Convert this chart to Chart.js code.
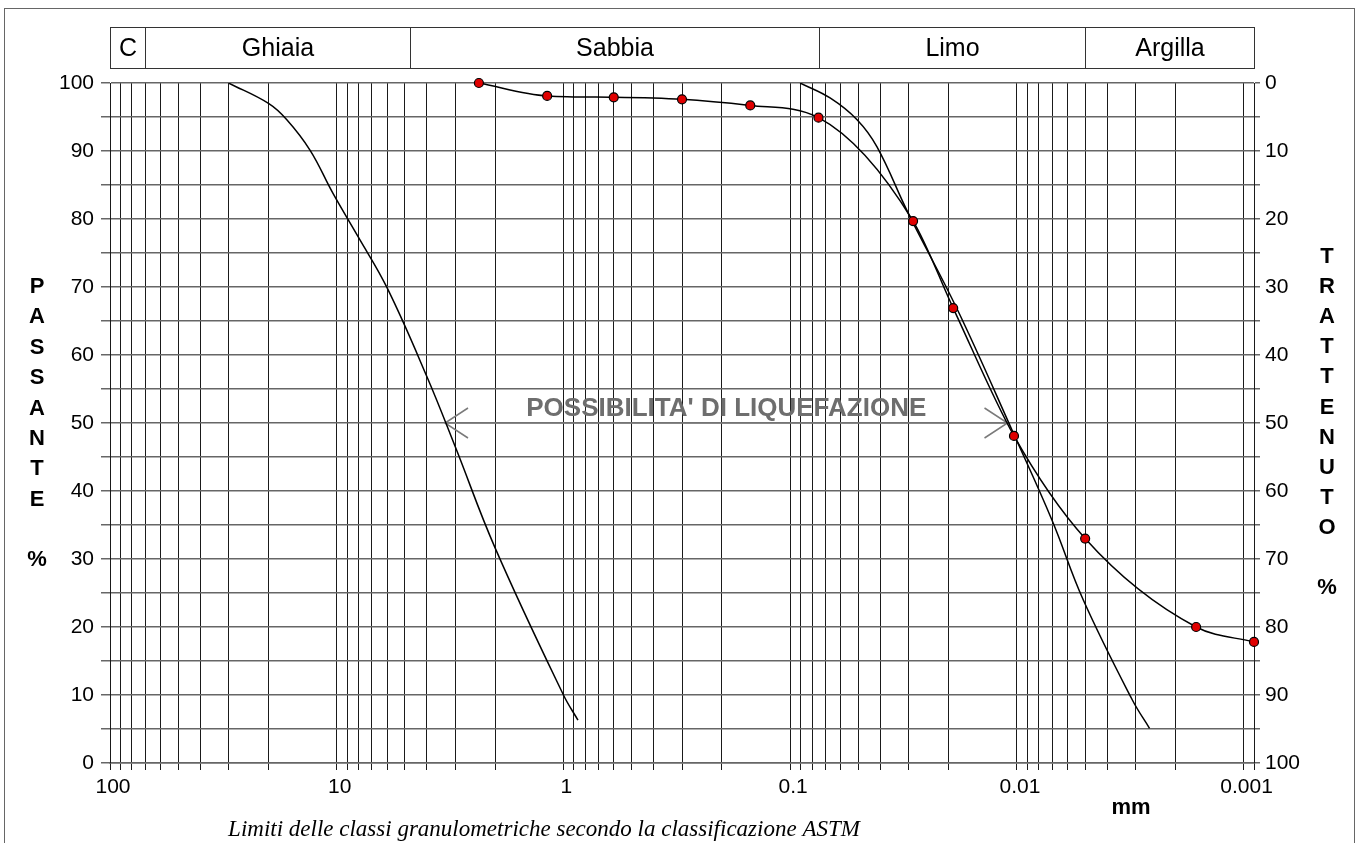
<!DOCTYPE html>
<html>
<head>
<meta charset="utf-8">
<script src="https://cdn.jsdelivr.net/npm/chart.js@4.4.1/dist/chart.umd.min.js"></script>
<style>
  html, body { margin: 0; padding: 0; background: #fff; }
  canvas { display: block; }
</style>
</head>
<body>
<canvas id="granChart" width="1359" height="843"></canvas>
<script>
// Curva granulometrica del campione (mm, % passante)
const sampleSize    = [2.36, 1.18, 0.6, 0.3, 0.15, 0.075, 0.0287, 0.0191, 0.0103, 0.005, 0.00162, 0.0009];
const samplePassing = [100, 98.1, 97.9, 97.6, 96.7, 94.9, 79.7, 66.9, 48.1, 33.0, 20.0, 17.8];

// Fuso della possibilita' di liquefazione
const leftEnvSize     = [30, 20, 16.6, 13.1, 10.4, 8.05, 6.0, 4.0, 3.0, 2.0, 1.0, 0.863];
const leftEnvPassing  = [100, 97, 94.6, 90.1, 83.8, 77.4, 69.9, 56.8, 46.5, 31.6, 10, 6.3];
const rightEnvSize    = [0.0904, 0.0667, 0.0507, 0.0414, 0.0302, 0.0182, 0.0103, 0.007, 0.0051, 0.0031, 0.0026];
const rightEnvPassing = [100, 97.8, 94.6, 90.6, 80.9, 66.5, 48.3, 35.7, 24, 9.3, 5.1];

// Classi ASTM
const classNames  = ['C', 'Ghiaia', 'Sabbia', 'Limo', 'Argilla'];
const classLimits = [100, 70, 4.75, 0.075, 0.005, 0.0009];

const arrowFrom = 3.33, arrowTo = 0.011, arrowLevel = 50;
const xMin = 0.0009, xMax = 100;

// log grid: 1..9 x 10^e
const xGrid = [];
for (let e = -4; e <= 2; e++) {
  for (let m = 1; m <= 9; m++) {
    const v = Number((m * Math.pow(10, e)).toPrecision(2));
    if (v >= xMin && v <= xMax) xGrid.push(v);
  }
}

function pts(xs, ys) { return xs.map((x, i) => ({ x, y: ys[i] })); }
function isDecade(v) { const l = Math.log10(v); return Math.abs(l - Math.round(l)) < 1e-9; }

const SANS = 'Arial, "Liberation Sans", Helvetica, sans-serif';
Chart.defaults.font.family = SANS;
Chart.defaults.font.size = 21;
Chart.defaults.color = '#000';

const decor = {
  id: 'decor',
  beforeDatasetsDraw(chart) {
    const { ctx, scales: { x, y } } = chart;
    const x1 = x.getPixelForValue(arrowFrom), x2 = x.getPixelForValue(arrowTo);
    const yy = y.getPixelForValue(arrowLevel);
    ctx.save();
    ctx.strokeStyle = '#7a7a7a';
    ctx.lineWidth = 1.5;
    ctx.beginPath();
    ctx.moveTo(x1, yy); ctx.lineTo(x2, yy);
    ctx.moveTo(x1 + 23, yy - 15); ctx.lineTo(x1, yy); ctx.lineTo(x1 + 23, yy + 15);
    ctx.moveTo(x2 - 23, yy - 15); ctx.lineTo(x2, yy); ctx.lineTo(x2 - 23, yy + 15);
    ctx.stroke();
    ctx.fillStyle = '#6e6e6e';
    ctx.font = 'bold 26px ' + SANS;
    ctx.textAlign = 'center';
    ctx.textBaseline = 'middle';
    ctx.fillText("POSSIBILITA' DI LIQUEFAZIONE", (x1 + x2) / 2, yy - 14);
    ctx.restore();
  },
  afterDraw(chart) {
    const { ctx, scales: { x } } = chart;
    ctx.save();
    // cornice esterna
    ctx.strokeStyle = '#666';
    ctx.lineWidth = 1;
    ctx.strokeRect(4.5, 8.5, 1350, 860);

    // intestazione classi
    ctx.strokeStyle = '#333';
    ctx.fillStyle = '#000';
    ctx.font = '25px ' + SANS;
    ctx.textAlign = 'center';
    ctx.textBaseline = 'middle';
    const top = 27.5, bot = 68.5;
    for (let i = 0; i < classNames.length; i++) {
      const a = Math.round(x.getPixelForValue(classLimits[i])) + 0.5;
      const b = Math.round(x.getPixelForValue(classLimits[i + 1])) + 0.5;
      ctx.strokeRect(a, top, b - a, bot - top);
      ctx.fillText(classNames[i], (a + b) / 2, (top + bot) / 2 + 1);
    }

    // titoli verticali
    ctx.font = 'bold 22px ' + SANS;
    'PASSANTE'.split('').forEach((c, i) => ctx.fillText(c, 37, 287 + i * 30.4));
    ctx.fillText('%', 37, 560);
    'TRATTENUTO'.split('').forEach((c, i) => ctx.fillText(c, 1327, 257 + i * 30.1));
    ctx.fillText('%', 1327, 588);

    ctx.fillText('mm', 1131, 808);

    ctx.font = 'italic 23px "Liberation Serif", "Times New Roman", serif';
    ctx.fillText('Limiti delle classi granulometriche secondo la classificazione ASTM', 544, 830);
    ctx.restore();
  }
};

new Chart(document.getElementById('granChart'), {
  type: 'scatter',
  data: {
    datasets: [
      {
        label: 'Campione',
        data: pts(sampleSize, samplePassing),
        showLine: true,
        borderColor: '#000',
        borderWidth: 1.5,
        pointRadius: 4.5,
        pointBackgroundColor: '#e00000',
        pointBorderColor: '#000',
        pointBorderWidth: 1.2,
        cubicInterpolationMode: 'monotone',
        clip: false
      },
      {
        label: 'Fuso sx',
        data: pts(leftEnvSize, leftEnvPassing),
        showLine: true,
        borderColor: '#000',
        borderWidth: 1.5,
        pointRadius: 0,
        tension: 0.4
      },
      {
        label: 'Fuso dx',
        data: pts(rightEnvSize, rightEnvPassing),
        showLine: true,
        borderColor: '#000',
        borderWidth: 1.5,
        pointRadius: 0,
        tension: 0.4
      }
    ]
  },
  options: {
    responsive: false,
    animation: false,
    layout: { padding: { top: 83, left: 0, right: 0, bottom: 0 } },
    plugins: { legend: { display: false }, tooltip: { enabled: false } },
    scales: {
      x: {
        type: 'logarithmic',
        position: 'bottom',
        reverse: true,
        min: xMin,
        max: xMax,
        afterBuildTicks: s => { s.ticks = xGrid.map(v => ({ value: v })); },
        afterFit: s => { s.height = 80; },
        ticks: {
          autoSkip: false,
          maxRotation: 0,
          padding: 5,
          labelOffset: 3,
          callback: v => isDecade(v) ? String(v) : ''
        },
        grid: { color: '#1a1a1a', lineWidth: 1, tickLength: 7 },
        border: { color: '#666', width: 1.5 }
      },
      y: {
        position: 'left',
        min: 0,
        max: 100,
        afterFit: s => { s.width = 110; },
        ticks: { stepSize: 5, padding: 7, callback: v => v % 10 === 0 ? v : '' },
        grid: { color: '#666', lineWidth: 1.5, tickLength: 9 },
        border: { color: '#1a1a1a', width: 1 }
      },
      y2: {
        position: 'right',
        min: 0,
        max: 100,
        reverse: true,
        afterFit: s => { s.width = 105; },
        ticks: { stepSize: 5, padding: 5, callback: v => v % 10 === 0 ? v : '' },
        grid: { drawOnChartArea: false, color: '#666', lineWidth: 1.5, tickLength: 6 },
        border: { color: '#1a1a1a', width: 1 }
      }
    }
  },
  plugins: [decor]
});
</script>
</body>
</html>
